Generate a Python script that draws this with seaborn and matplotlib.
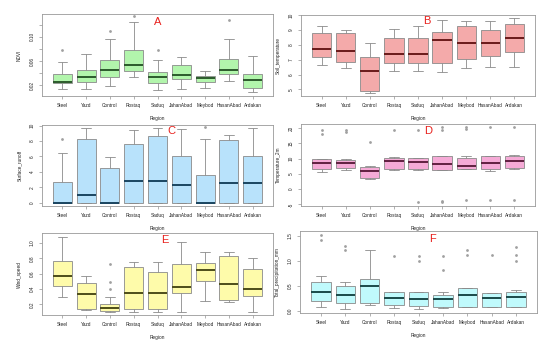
import matplotlib
matplotlib.use("Agg")
import matplotlib.pyplot as plt
import seaborn as sns
import pandas as pd
import numpy as np

regions = ["Steel", "Yazd", "Control", "Rostaq", "Saduq", "JahanAbad", "Meybod", "HasanAbad", "Ardakan"]

# five-number summaries per region: [lower whisker, q1, median, q3, upper whisker]
ndvi_stats = [[0.013, 0.023, 0.026, 0.038, 0.059], [0.014, 0.026, 0.034, 0.046, 0.071],
              [0.018, 0.033, 0.046, 0.062, 0.096], [0.033, 0.043, 0.053, 0.078, 0.125],
              [0.012, 0.024, 0.034, 0.042, 0.061], [0.014, 0.031, 0.037, 0.053, 0.067],
              [0.016, 0.026, 0.032, 0.035, 0.044], [0.027, 0.038, 0.046, 0.063, 0.097],
              [0.008, 0.016, 0.029, 0.039, 0.068]]
ndvi_out = [[0.078], [], [0.110], [0.134], [0.078], [], [], [0.128], []]

soil_stats = [[6.61, 7.20, 7.71, 8.81, 9.26], [6.43, 6.84, 7.58, 8.81, 8.99],
              [4.75, 4.87, 6.21, 7.15, 8.12], [6.23, 6.75, 7.42, 8.50, 9.06],
              [6.23, 6.75, 7.42, 8.50, 9.26], [6.14, 6.75, 8.30, 8.88, 9.71],
              [6.46, 7.06, 8.12, 9.26, 9.62], [6.48, 7.26, 8.16, 9.04, 9.62],
              [6.48, 7.53, 8.50, 9.44, 9.82]]
soil_out = [[], [], [], [], [], [], [], [], []]

runoff_stats = [[0, 0, 0, 2.73, 6.45], [0, 0, 1.04, 8.31, 9.65], [0, 0, 0, 4.46, 5.97],
                [0, 0, 2.77, 7.66, 9.48], [0, 0, 2.77, 8.61, 9.74], [0, 0, 2.25, 6.02, 9.52],
                [0, 0, 0, 3.64, 8.23], [0, 0, 2.51, 8.18, 8.83], [0, 0, 2.51, 6.10, 9.74]]
runoff_out = [[8.27], [], [], [], [], [], [9.78], [], []]

temp_stats = [[5.7, 6.6, 8.4, 9.7, 9.9], [6.2, 6.8, 8.7, 9.6, 9.7], [3.4, 3.5, 5.9, 7.3, 7.6],
              [6.2, 6.7, 9.2, 10.3, 10.4], [6.2, 6.7, 8.9, 10.2, 10.3], [6.3, 6.4, 8.2, 10.9, 11.0],
              [6.5, 6.6, 7.6, 10.2, 10.9], [5.9, 6.5, 8.4, 10.8, 10.9], [6.7, 6.8, 9.2, 10.9, 11.3]]
temp_out = [[18.0, 19.3], [18.8, 19.3], [15.4], [19.2], [19.2, -4.2], [20.4, 19.2, -3.8, -4.3],
            [20.3, 19.6, -3.5], [20.3, -3.4], [20.3, -3.5]]

wind_stats = [[0.30, 0.437, 0.568, 0.76, 1.083], [0.127, 0.135, 0.332, 0.476, 0.576],
              [0.096, 0.118, 0.157, 0.20, 0.30], [0.105, 0.135, 0.345, 0.686, 0.751],
              [0.105, 0.135, 0.345, 0.616, 0.751], [0.105, 0.345, 0.424, 0.72, 1.013],
              [0.24, 0.502, 0.646, 0.734, 0.878], [0.23, 0.26, 0.467, 0.834, 0.878],
              [0.105, 0.306, 0.406, 0.66, 0.80]]
wind_out = [[], [], [0.725, 0.498, 0.397], [], [], [], [], [], []]

precip_stats = [[0.07, 0.192, 0.372, 0.584, 0.70], [0.027, 0.159, 0.318, 0.498, 0.57],
                [0.12, 0.146, 0.49, 0.644, 1.21], [0.046, 0.106, 0.265, 0.385, 0.385],
                [0.04, 0.093, 0.239, 0.385, 0.385], [0.06, 0.08, 0.226, 0.312, 0.385],
                [0.073, 0.073, 0.318, 0.458, 0.458], [0.066, 0.066, 0.265, 0.365, 0.365],
                [0.073, 0.073, 0.272, 0.385, 0.41]]
precip_out = [[1.51, 1.41], [1.29, 1.21], [], [1.09], [1.09, 1.0], [1.09, 0.81],
              [1.21, 1.11], [1.11], [1.27, 1.11, 1.0]]

panels = [
    ("NDVI", ndvi_stats, ndvi_out, "A", "#b2f5ac", "#2c5a2c", (42, 14, 273, 96), (0.0022, 0.1378),
     [0.02, 0.04, 0.06, 0.08, 0.10, 0.12], ["0.02", "", "0.06", "", "0.10", ""], (158, 22)),
    ("Soil_temperature", soil_stats, soil_out, "B", "#f4aaaa", "#6a1a1a", (301, 15, 535, 96), (4.55, 10.02),
     [5, 6, 7, 8, 9, 10], ["5", "6", "7", "8", "9", "10"], (427, 21)),
    ("Surface_runoff", runoff_stats, runoff_out, "C", "#b8e2fb", "#1a4560", (42, 125, 273, 206), (-0.45, 10.1),
     [0, 2, 4, 6, 8, 10], ["0", "2", "4", "6", "8", "10"], (171, 131)),
    ("Temperature_2m", temp_stats, temp_out, "D", "#f5aad6", "#602040", (301, 124, 535, 206), (-5.5, 21.3),
     [-5, 0, 5, 10, 15, 20], ["-5", "0", "5", "10", "15", "20"], (428, 131)),
    ("Wind_speed", wind_stats, wind_out, "E", "#fefbaa", "#4d4d1a", (42, 233, 273, 315), (0.061, 1.131),
     [0.2, 0.4, 0.6, 0.8, 1.0], ["0.2", "0.4", "0.6", "0.8", "1.0"], (165, 240)),
    ("Total_precipitation_mm", precip_stats, precip_out, "F", "#c0fafc", "#1a4a4a", (300, 231, 537, 313), (-0.046, 1.6),
     [0.0, 0.5, 1.0, 1.5], ["0.0", "0.5", "1.0", "1.5"], (432, 239)),
]

W, H = 559, 342
sns.set_style("white")
plt.rcParams["font.family"] = ["Liberation Sans", "DejaVu Sans"]
FS = 3.4
fig = plt.figure(figsize=(W / 100, H / 100), dpi=100)
fig.patch.set_facecolor("white")

for name, stats, outs, letter, fill, medc, rect, ylim, yt, ytl, lpos in panels:
    x0, y0, x1, y1 = rect
    ax = fig.add_axes([x0 / W, 1 - y1 / H, (x1 - x0) / W, (y1 - y0) / H])
    box_df = pd.DataFrame([(r, v) for r, s in zip(regions, stats) for v in s], columns=["Region", "value"])
    out_df = pd.DataFrame([(r, v) for r, o in zip(regions, outs) for v in o], columns=["Region", "value"])
    sns.boxplot(data=box_df, x="Region", y="value", order=regions, color=fill, width=0.8,
                whis=(0, 100), showfliers=False, linecolor="#8a8a8a", linewidth=0.6, saturation=1,
                medianprops=dict(color=medc, linewidth=1.4), ax=ax)
    if len(out_df):
        sns.stripplot(data=out_df, x="Region", y="value", order=regions, jitter=False, color="#a0a0a0",
                      size=2.0, linewidth=0, ax=ax)
    ax.set_xlim(-0.86, 8.86)
    ax.set_ylim(*ylim)
    ax.set_yticks(yt)
    ax.set_yticklabels(ytl, rotation=90, va="center", fontsize=FS, color="#222222")
    ax.set_xticks(range(len(regions)))
    ax.set_xticklabels(regions, fontsize=FS, color="#222222")
    ax.tick_params(axis="both", length=2, width=0.4, color="#777777", pad=3.3, direction="out",
                   left=True, bottom=True)
    ax.set_xlabel("Region", fontsize=FS, labelpad=5.5, color="#222222")
    ax.set_ylabel(name, fontsize=FS, labelpad=5.5, color="#222222")
    for sp in ax.spines.values():
        sp.set_color("#999999")
        sp.set_linewidth(0.6)
    fig.text(lpos[0] / W, 1 - lpos[1] / H, letter, color="#e8201c", fontsize=8, ha="center", va="center")

fig.savefig("out.png", dpi=100, facecolor="white")
